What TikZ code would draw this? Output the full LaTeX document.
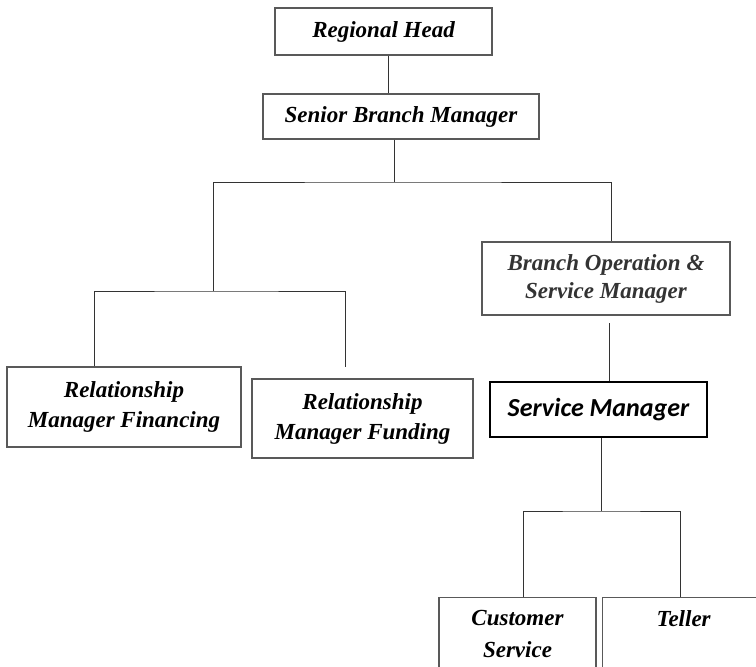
\documentclass[tikz,border=0pt]{standalone}
\usepackage{fontspec}
\setmainfont{Liberation Serif}
\newfontfamily\smfont{Carlito}

\begin{document}
\begin{tikzpicture}[x=1pt,y=-1pt,
    org box/.style={rectangle,draw=black!65,line width=1.2pt,align=center,
      font=\fontsize{23}{30}\selectfont\bfseries\itshape},
    key box/.style={org box,draw=black,line width=1.8pt,
      font=\smfont\fontsize{26}{30}\selectfont\bfseries\itshape},
    cut box/.style={org box,inner ysep=12.5pt,text depth=60pt,
      font=\fontsize{23}{32}\selectfont\bfseries\itshape},
    link/.style={draw=black!80,line width=1pt}]

  \clip (0,0) rectangle (756,667);

  \node[org box,minimum width=217pt,minimum height=47pt] (head) at (383.5,31.5) {Regional Head};
  \node[org box,minimum width=276pt,minimum height=45pt] (senior) at (401,116.5) {Senior Branch Manager};
  \node[org box,minimum width=234pt,minimum height=80pt] (rmfin) at (124,407) {Relationship\\Manager Financing};
  \node[org box,minimum width=221pt,minimum height=79pt] (rmfund) at (362.5,418.5) {Relationship\\Manager Funding};
  \node[org box,minimum width=248pt,minimum height=73pt,text=black!80,font=\fontsize{23}{28}\selectfont\bfseries\itshape] (bosm) at (606,278.5) {Branch Operation \&\\Service Manager};
  \node[key box,minimum width=217pt,minimum height=55pt] (sm) at (598.5,409.5) {Service Manager};
  \node[cut box,anchor=north,minimum width=157pt] (cs) at (517.5,597) {Customer\\Service};
  \node[cut box,anchor=north west,minimum width=162pt] (teller) at (602,597) {Teller};

  \coordinate (split) at (394,182);
  \coordinate (leftsplit) at (213,291);
  \coordinate (fundend) at (345,367);
  \coordinate (smtop) at (609,323);
  \coordinate (lowsplit) at (601,511);

  \draw[link] ([xshift=4.5pt]head.south) -- ([xshift=4.5pt]head.south |- senior.north);
  \draw[link] ([xshift=-7pt]senior.south) -- (split);
  \draw[link] (leftsplit) |- (split) -| ([xshift=5pt]bosm.north);
  \draw[link] ([xshift=-30pt]rmfin.north) |- (leftsplit) -| (fundend);
  \draw[link] (smtop) -- (smtop |- sm.north);
  \draw[link] ([xshift=2.5pt]sm.south) -- (lowsplit);
  \draw[link] ([xshift=5.5pt]cs.north) |- (lowsplit) -| ([xshift=-3pt]teller.north);

\end{tikzpicture}
\end{document}
